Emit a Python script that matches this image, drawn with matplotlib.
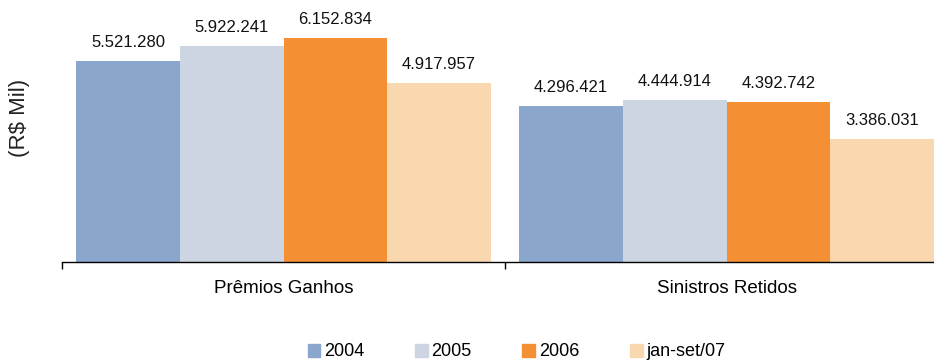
import matplotlib.pyplot as plt
import matplotlib.patches as mpatches
import numpy as np

plt.rcParams['font.family'] = ['Liberation Sans', 'DejaVu Sans']

categories = ["Prêmios Ganhos", "Sinistros Retidos"]
series = ["2004", "2005", "2006", "jan-set/07"]
values = {
    "2004": [5521280, 4296421],
    "2005": [5922241, 4444914],
    "2006": [6152834, 4392742],
    "jan-set/07": [4917957, 3386031],
}
colors = ["#8AA6CD", "#CCD5E1", "#F49033", "#F9D8AF"]


def fmt(v):
    return "{:,}".format(v).replace(",", ".")


fig = plt.figure(figsize=(9.34, 3.61), dpi=100)
ax = fig.add_axes([62 / 934, 99 / 361, 872 / 934, 262 / 361])

x = np.arange(len(categories))
width = 0.234
for i, name in enumerate(series):
    pos = x + (i - 1.5) * width
    bars = ax.bar(pos, values[name], width=width, color=colors[i], label=name)
    for b, v in zip(bars, values[name]):
        ax.annotate(fmt(v), (b.get_x() + b.get_width() / 2, b.get_height()),
                    xytext=(0, 8), textcoords="offset points",
                    ha="center", va="bottom", fontsize=12, color="#111111")

ax.set_xlim(-0.5, 1.468)
ax.set_ylim(0, 7200000)
for s in ["top", "right", "left"]:
    ax.spines[s].set_visible(False)
ax.spines["bottom"].set_linewidth(1.0)
ax.set_yticks([])
ax.set_xticks(x)
ax.set_xticklabels(categories, fontsize=13.5)
ax.tick_params(axis="x", which="major", length=0, pad=13)
ax.set_xticks([-0.5, 0.5], minor=True)
ax.tick_params(axis="x", which="minor", length=5, width=1.0, direction="out")

fig.text(20 / 934, 1 - 117.5 / 361, "(R$ Mil)", rotation=90, ha="center", va="center",
         fontsize=16, color="#222222")

handles = [mpatches.Patch(color=c, label=s) for c, s in zip(colors, series)]
fig.legend(handles=handles, loc="center", ncol=4, frameon=False,
           fontsize=13, handlelength=0.7, handleheight=0.75, handletextpad=0.22,
           columnspacing=2.8, bbox_to_anchor=(0.553, 1 - 352 / 361))

fig.savefig("out.png", dpi=100)
